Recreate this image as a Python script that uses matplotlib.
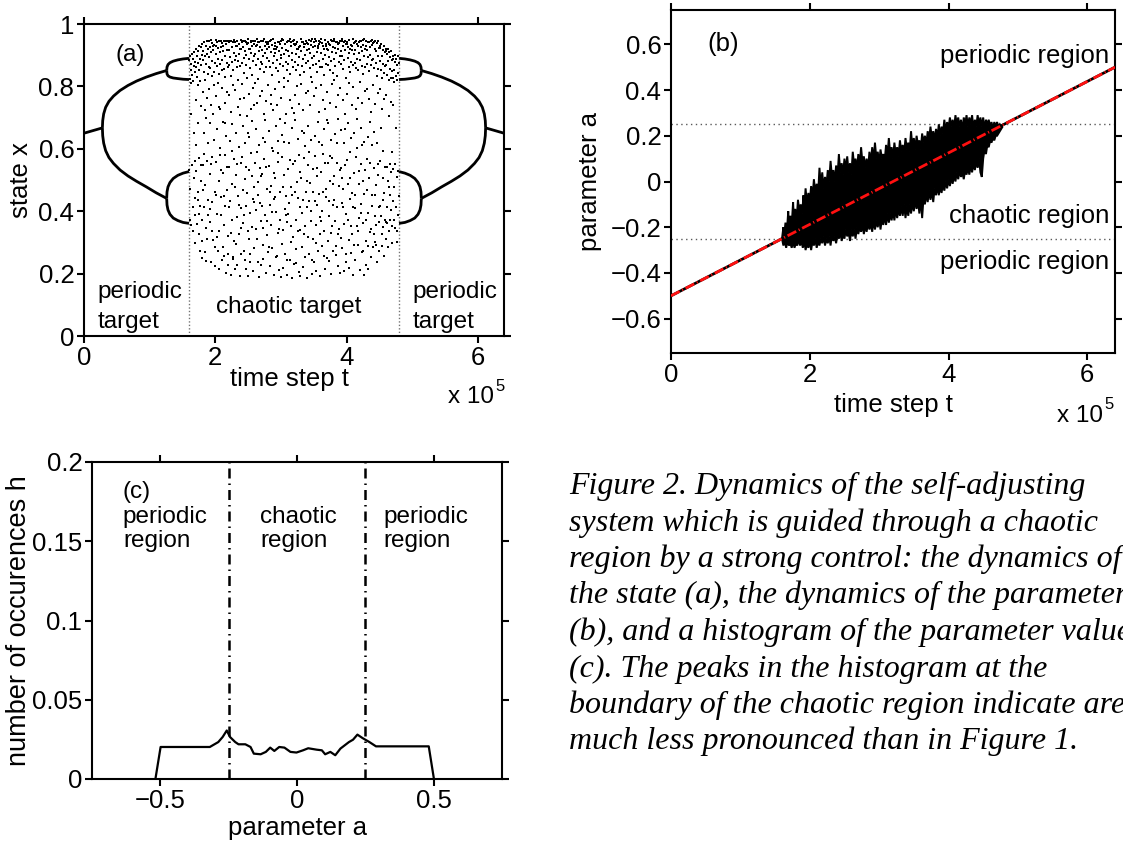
import matplotlib
matplotlib.use("Agg")
import matplotlib.pyplot as plt

plt.rcParams["font.family"] = ["Liberation Sans", "DejaVu Sans"]

# ── (a) state x: period-doubling branches either side of the chaotic window ──
STEM_L_T = [0.0, 0.28]
STEM_R_T = [6.4, 6.12]
STEM_X   = [0.650, 0.667]

BIG_L_T  = [0.28, 0.285, 0.30, 0.33, 0.38, 0.45, 0.55, 0.67, 0.80, 0.95, 1.10, 1.26]
BIG_R_T  = [6.12, 6.115, 6.10, 6.07, 6.02, 5.95, 5.85, 5.73, 5.60, 5.45, 5.30, 5.14]
BIG_UP_X = [0.667, 0.690, 0.712, 0.733, 0.752, 0.769, 0.787, 0.803, 0.817, 0.830, 0.841, 0.851]
BIG_LO_X = [0.667, 0.642, 0.618, 0.594, 0.572, 0.553, 0.532, 0.513, 0.496, 0.478, 0.459, 0.441]

SML_L_T  = [1.26, 1.265, 1.28, 1.31, 1.36, 1.43, 1.51, 1.60]
SML_R_T  = [5.14, 5.135, 5.12, 5.09, 5.04, 4.97, 4.89, 4.80]
SML_A_UP = [0.851, 0.862, 0.870, 0.876, 0.881, 0.885, 0.888, 0.890]
SML_A_LO = [0.851, 0.840, 0.834, 0.830, 0.827, 0.825, 0.823, 0.822]
SML_B_UP = [0.441, 0.462, 0.478, 0.492, 0.505, 0.515, 0.522, 0.527]
SML_B_LO = [0.441, 0.420, 0.404, 0.390, 0.378, 0.370, 0.364, 0.361]

CHAOS_PTS = [
    (1.603,.884),(1.611,.823),(1.618,.897),(1.624,.851),(1.631,.812),(1.637,.872),(1.646,.905),(1.652,.836),(1.659,.889),(1.667,.818),
    (1.674,.866),(1.681,.909),(1.689,.845),(1.696,.878),(1.607,.532),(1.615,.372),(1.622,.471),(1.634,.355),(1.641,.548),(1.655,.412),
    (1.663,.338),(1.671,.506),(1.684,.387),(1.692,.562),(1.699,.443),(1.628,.713),(1.677,.652),(1.694,.298),
    (1.702,.921),(1.709,.861),(1.716,.897),(1.723,.829),(1.731,.914),(1.738,.876),(1.744,.805),(1.752,.931),(1.759,.852),(1.767,.889),
    (1.774,.818),(1.782,.925),(1.789,.869),(1.796,.902),(1.706,.757),(1.741,.684),(1.778,.736),(1.713,.529),(1.728,.358),(1.735,.463),
    (1.749,.571),(1.756,.327),(1.771,.418),(1.785,.497),(1.793,.371),(1.763,.272),(1.798,.251),
    (1.804,.937),(1.811,.884),(1.817,.912),(1.826,.846),(1.833,.941),(1.839,.897),(1.848,.822),(1.855,.928),(1.862,.871),(1.869,.945),
    (1.877,.904),(1.884,.839),(1.891,.919),(1.898,.862),(1.808,.781),(1.844,.723),(1.872,.764),(1.829,.652),(1.887,.617),(1.815,.547),
    (1.851,.483),(1.879,.562),(1.822,.412),(1.858,.347),(1.894,.389),(1.837,.268),(1.866,.241),
    (1.903,.946),(1.909,.893),(1.916,.927),(1.924,.858),(1.931,.949),(1.937,.911),(1.945,.834),(1.952,.938),(1.958,.882),(1.966,.928),
    (1.973,.917),(1.981,.846),(1.988,.933),(1.995,.874),(1.906,.792),(1.941,.741),(1.977,.806),(1.927,.683),(1.985,.628),(1.913,.518),
    (1.949,.574),(1.992,.463),(1.921,.366),(1.956,.431),(1.969,.307),(1.934,.238),(1.998,.224),
    (2.004,.948),(2.011,.903),(2.018,.931),(2.026,.865),(2.033,.941),(2.039,.887),(2.047,.922),(2.054,.839),(2.061,.944),(2.068,.909),
    (2.076,.873),(2.083,.947),(2.089,.926),(2.097,.851),(2.008,.768),(2.043,.812),(2.079,.727),(2.022,.664),(2.071,.603),(2.015,.558),
    (2.051,.497),(2.093,.531),(2.029,.392),(2.064,.338),(2.086,.447),(2.036,.271),(2.058,.214),(2.099,.243),
    (2.103,.939),(2.109,.884),(2.117,.928),(2.124,.912),(2.131,.857),(2.138,.944),(2.146,.898),(2.153,.829),(2.159,.935),(2.167,.947),
    (2.174,.876),(2.181,.918),(2.188,.947),(2.196,.862),(2.107,.796),(2.142,.748),(2.178,.781),(2.121,.687),(2.163,.641),(2.114,.523),
    (2.149,.579),(2.185,.468),(2.128,.357),(2.156,.416),(2.192,.322),(2.135,.256),(2.171,.203),(2.199,.229),
    (2.202,.941),(2.208,.917),(2.216,.868),(2.223,.945),(2.229,.893),(2.237,.834),(2.244,.947),(2.251,.926),(2.258,.879),(2.266,.941),
    (2.273,.851),(2.279,.908),(2.287,.949),(2.294,.886),(2.206,.772),(2.241,.717),(2.277,.803),(2.219,.624),(2.262,.678),(2.212,.542),
    (2.248,.486),(2.284,.567),(2.226,.433),(2.255,.371),(2.291,.306),(2.233,.197),(2.269,.248),(2.298,.214),
    (2.303,.943),(2.311,.897),(2.317,.928),(2.325,.861),(2.332,.928),(2.339,.946),(2.346,.883),(2.353,.819),(2.361,.937),(2.368,.904),
    (2.375,.919),(2.382,.866),(2.389,.921),(2.397,.948),(2.307,.788),(2.343,.734),(2.379,.759),(2.321,.651),(2.364,.607),(2.314,.516),
    (2.349,.448),(2.386,.553),(2.328,.382),(2.357,.327),(2.393,.411),(2.336,.228),(2.371,.193),(2.399,.262),
    (2.404,.941),(2.411,.874),(2.418,.926),(2.424,.947),(2.431,.892),(2.438,.843),(2.446,.947),(2.453,.915),(2.461,.869),(2.467,.942),
    (2.474,.902),(2.482,.826),(2.489,.937),(2.496,.951),(2.408,.809),(2.443,.762),(2.478,.706),(2.421,.673),(2.457,.618),(2.414,.574),
    (2.449,.502),(2.485,.459),(2.428,.361),(2.464,.418),(2.492,.337),(2.434,.273),(2.471,.216),(2.499,.191),
    (2.503,.938),(2.509,.919),(2.517,.887),(2.524,.921),(2.531,.859),(2.538,.947),(2.545,.908),(2.552,.941),(2.559,.836),(2.566,.929),
    (2.573,.882),(2.581,.944),(2.588,.897),(2.595,.936),(2.507,.777),(2.542,.729),(2.577,.794),(2.521,.639),(2.563,.688),(2.513,.531),
    (2.548,.587),(2.584,.476),(2.527,.394),(2.556,.349),(2.591,.428),(2.535,.238),(2.569,.207),(2.598,.282),
    (2.602,.946),(2.609,.903),(2.616,.928),(2.623,.868),(2.631,.934),(2.637,.951),(2.645,.889),(2.652,.824),(2.658,.942),(2.666,.913),
    (2.673,.941),(2.681,.857),(2.687,.926),(2.694,.878),(2.606,.812),(2.641,.746),(2.677,.768),(2.619,.663),(2.662,.612),(2.613,.556),
    (2.648,.493),(2.684,.539),(2.627,.404),(2.655,.453),(2.691,.368),(2.634,.312),(2.669,.188),(2.698,.226),
    (2.704,.947),(2.711,.918),(2.717,.871),(2.725,.944),(2.732,.896),(2.738,.951),(2.746,.847),(2.753,.928),(2.759,.906),(2.767,.941),
    (2.774,.863),(2.781,.936),(2.788,.892),(2.796,.919),(2.708,.784),(2.742,.712),(2.778,.753),(2.721,.634),(2.763,.691),(2.714,.519),
    (2.749,.566),(2.785,.472),(2.728,.346),(2.757,.387),(2.792,.323),(2.735,.246),(2.771,.203),(2.799,.268),
    (2.803,.941),(2.809,.936),(2.817,.881),(2.824,.925),(2.831,.947),(2.838,.862),(2.845,.911),(2.852,.948),(2.859,.837),(2.866,.932),
    (2.873,.951),(2.881,.874),(2.888,.919),(2.895,.899),(2.807,.806),(2.842,.771),(2.877,.724),(2.821,.657),(2.863,.603),(2.813,.544),
    (2.848,.481),(2.884,.592),(2.827,.419),(2.856,.357),(2.891,.438),(2.834,.224),(2.869,.282),(2.898,.194),
    (2.904,.928),(2.911,.907),(2.917,.938),(2.925,.859),(2.931,.919),(2.938,.884),(2.946,.926),(2.953,.941),(2.959,.848),(2.967,.913),
    (2.974,.943),(2.981,.871),(2.988,.936),(2.996,.902),(2.908,.791),(2.942,.739),(2.978,.815),(2.921,.672),(2.963,.624),(2.914,.505),
    (2.949,.558),(2.985,.462),(2.928,.398),(2.957,.331),(2.992,.372),(2.935,.257),(2.971,.211),(2.999,.189),
    (3.003,.944),(3.009,.891),(3.017,.951),(3.024,.923),(3.031,.866),(3.038,.949),(3.045,.903),(3.052,.828),(3.059,.937),(3.066,.936),
    (3.073,.879),(3.081,.917),(3.088,.941),(3.095,.854),(3.007,.763),(3.042,.797),(3.077,.711),(3.021,.645),(3.063,.682),(3.013,.573),
    (3.048,.517),(3.084,.449),(3.027,.341),(3.056,.406),(3.091,.364),(3.034,.218),(3.069,.262),(3.098,.197),
    (3.102,.947),(3.109,.915),(3.116,.872),(3.124,.946),(3.131,.898),(3.137,.951),(3.145,.841),(3.152,.929),(3.159,.941),(3.166,.886),
    (3.173,.908),(3.181,.944),(3.187,.863),(3.195,.936),(3.106,.817),(3.141,.756),(3.177,.732),(3.119,.618),(3.162,.667),(3.113,.534),
    (3.148,.478),(3.184,.551),(3.127,.427),(3.155,.353),(3.191,.318),(3.134,.243),(3.169,.186),(3.199,.231),
    (3.204,.948),(3.211,.877),(3.217,.933),(3.224,.936),(3.231,.905),(3.238,.852),(3.246,.941),(3.253,.919),(3.259,.919),(3.267,.868),
    (3.274,.927),(3.281,.893),(3.288,.928),(3.296,.835),(3.208,.774),(3.243,.801),(3.278,.742),(3.221,.693),(3.263,.631),(3.214,.562),
    (3.249,.494),(3.285,.527),(3.228,.371),(3.256,.442),(3.292,.339),(3.235,.278),(3.271,.205),(3.299,.192),
    (3.303,.951),(3.309,.912),(3.317,.866),(3.324,.943),(3.331,.941),(3.338,.889),(3.345,.926),(3.352,.847),(3.359,.936),(3.366,.901),
    (3.373,.937),(3.381,.874),(3.388,.947),(3.395,.918),(3.307,.809),(3.342,.723),(3.378,.778),(3.321,.656),(3.363,.608),(3.313,.508),
    (3.349,.572),(3.384,.463),(3.327,.393),(3.356,.326),(3.391,.412),(3.335,.221),(3.369,.253),(3.398,.187),
    (3.402,.938),(3.409,.936),(3.416,.883),(3.424,.921),(3.431,.949),(3.437,.858),(3.445,.906),(3.452,.947),(3.459,.831),(3.466,.934),
    (3.473,.892),(3.481,.951),(3.487,.869),(3.495,.927),(3.406,.786),(3.441,.741),(3.477,.813),(3.419,.674),(3.462,.629),(3.413,.547),
    (3.448,.489),(3.484,.536),(3.427,.434),(3.455,.368),(3.491,.311),(3.434,.263),(3.469,.199),(3.499,.236),
    (3.504,.941),(3.511,.897),(3.517,.929),(3.525,.951),(3.531,.872),(3.538,.944),(3.546,.911),(3.553,.846),(3.559,.928),(3.567,.924),
    (3.574,.881),(3.581,.947),(3.588,.936),(3.596,.862),(3.508,.768),(3.542,.794),(3.578,.718),(3.521,.641),(3.563,.687),(3.514,.577),
    (3.549,.514),(3.585,.456),(3.528,.357),(3.557,.421),(3.592,.382),(3.535,.208),(3.571,.274),(3.599,.193),
    (3.603,.943),(3.609,.951),(3.617,.906),(3.624,.861),(3.631,.938),(3.638,.928),(3.645,.887),(3.652,.919),(3.659,.838),(3.666,.948),
    (3.673,.902),(3.681,.936),(3.688,.873),(3.695,.931),(3.607,.804),(3.642,.757),(3.677,.729),(3.621,.613),(3.663,.662),(3.613,.526),
    (3.648,.583),(3.684,.471),(3.627,.402),(3.656,.336),(3.691,.447),(3.634,.287),(3.669,.216),(3.698,.249),
    (3.704,.919),(3.711,.917),(3.717,.869),(3.725,.941),(3.732,.893),(3.738,.936),(3.746,.852),(3.753,.932),(3.759,.949),(3.767,.881),
    (3.774,.911),(3.781,.947),(3.788,.842),(3.796,.926),(3.708,.782),(3.742,.746),(3.778,.807),(3.721,.684),(3.763,.627),(3.714,.554),
    (3.749,.498),(3.785,.569),(3.728,.386),(3.757,.329),(3.792,.419),(3.735,.241),(3.771,.198),(3.799,.274),
    (3.803,.947),(3.809,.889),(3.817,.951),(3.824,.924),(3.831,.866),(3.838,.943),(3.845,.908),(3.852,.941),(3.859,.834),(3.866,.921),
    (3.873,.936),(3.881,.877),(3.888,.939),(3.895,.898),(3.807,.819),(3.842,.733),(3.877,.771),(3.821,.647),(3.863,.696),(3.813,.512),
    (3.848,.556),(3.884,.482),(3.827,.368),(3.856,.413),(3.891,.344),(3.834,.259),(3.869,.223),(3.898,.202),
    (3.902,.947),(3.909,.914),(3.916,.871),(3.924,.946),(3.931,.899),(3.937,.951),(3.945,.855),(3.952,.929),(3.959,.941),(3.966,.884),
    (3.973,.917),(3.981,.944),(3.987,.828),(3.995,.936),(3.906,.794),(3.941,.758),(3.977,.713),(3.919,.661),(3.962,.617),(3.913,.537),
    (3.948,.472),(3.984,.548),(3.927,.427),(3.955,.359),(3.991,.392),(3.934,.283),(3.969,.209),(3.999,.236),
    (4.003,.941),(4.009,.936),(4.017,.892),(4.024,.925),(4.031,.863),(4.038,.949),(4.045,.907),(4.052,.919),(4.059,.846),(4.066,.933),
    (4.073,.878),(4.081,.928),(4.088,.916),(4.095,.869),(4.007,.777),(4.042,.811),(4.077,.739),(4.021,.682),(4.063,.635),(4.013,.563),
    (4.048,.508),(4.084,.459),(4.027,.373),(4.056,.438),(4.091,.326),(4.034,.219),(4.069,.267),(4.098,.195),
    (4.102,.951),(4.109,.903),(4.116,.938),(4.124,.874),(4.131,.941),(4.137,.917),(4.145,.859),(4.152,.946),(4.159,.889),(4.166,.936),
    (4.173,.931),(4.181,.852),(4.187,.943),(4.195,.908),(4.106,.798),(4.141,.727),(4.177,.764),(4.119,.651),(4.162,.604),(4.113,.521),
    (4.148,.574),(4.184,.486),(4.127,.409),(4.155,.351),(4.191,.379),(4.134,.244),(4.169,.291),(4.199,.212),
    (4.204,.946),(4.211,.884),(4.217,.927),(4.224,.947),(4.231,.866),(4.238,.912),(4.246,.948),(4.253,.839),(4.259,.934),(4.267,.951),
    (4.274,.897),(4.281,.921),(4.288,.861),(4.296,.944),(4.208,.815),(4.243,.748),(4.278,.786),(4.221,.668),(4.263,.623),(4.214,.552),
    (4.249,.496),(4.285,.531),(4.228,.422),(4.256,.363),(4.292,.304),(4.235,.268),(4.271,.197),(4.299,.229),
    (4.303,.928),(4.309,.917),(4.317,.873),(4.324,.941),(4.331,.894),(4.338,.941),(4.345,.849),(4.352,.926),(4.359,.902),(4.366,.947),
    (4.373,.868),(4.381,.932),(4.388,.884),(4.395,.949),(4.307,.791),(4.342,.761),(4.377,.719),(4.321,.639),(4.363,.687),(4.313,.568),
    (4.349,.507),(4.384,.451),(4.327,.394),(4.356,.333),(4.391,.417),(4.335,.216),(4.369,.252),(4.398,.284),
    (4.403,.938),(4.409,.887),(4.416,.943),(4.424,.859),(4.431,.921),(4.437,.946),(4.445,.876),(4.452,.913),(4.459,.834),(4.466,.939),
    (4.473,.896),(4.481,.944),(4.487,.857),(4.495,.924),(4.406,.806),(4.441,.742),(4.477,.778),(4.419,.653),(4.462,.618),(4.413,.537),
    (4.448,.483),(4.484,.552),(4.427,.386),(4.455,.357),(4.491,.413),(4.434,.301),(4.469,.236),(4.499,.271),
    (4.503,.931),(4.509,.882),(4.517,.924),(4.524,.851),(4.531,.936),(4.538,.897),(4.545,.828),(4.552,.918),(4.559,.871),(4.566,.929),
    (4.573,.843),(4.581,.909),(4.588,.864),(4.595,.921),(4.507,.793),(4.542,.726),(4.577,.761),(4.521,.667),(4.513,.561),(4.549,.506),
    (4.584,.542),(4.528,.384),(4.556,.349),(4.591,.372),(4.563,.436),(4.535,.289),(4.571,.258),(4.598,.312),
    (4.603,.914),(4.609,.868),(4.617,.903),(4.624,.837),(4.631,.921),(4.638,.882),(4.646,.819),(4.652,.909),(4.659,.857),(4.667,.894),
    (4.674,.826),(4.681,.912),(4.688,.849),(4.696,.886),(4.607,.772),(4.642,.704),(4.678,.751),(4.613,.543),(4.621,.361),(4.635,.497),
    (4.649,.338),(4.656,.552),(4.671,.403),(4.684,.526),(4.692,.354),(4.663,.452),(4.628,.284),(4.699,.297),
    (4.703,.889),(4.709,.826),(4.716,.897),(4.723,.851),(4.731,.814),(4.737,.879),(4.745,.902),(4.752,.833),(4.759,.887),(4.767,.819),
    (4.774,.868),(4.781,.896),(4.788,.844),(4.795,.874),(4.706,.741),(4.748,.668),(4.712,.536),(4.719,.371),(4.727,.478),(4.734,.345),
    (4.741,.551),(4.756,.412),(4.763,.336),(4.771,.509),(4.784,.389),(4.792,.529),(4.798,.448),(4.777,.302),
]

# extra points filling the middle and lower part of the chaotic cloud
CHAOS_MID = [
    (1.712,.612),(1.738,.437),(1.757,.392),(1.784,.548),(1.795,.305),(1.818,.468),(1.836,.584),(1.857,.699),(1.874,.312),(1.893,.437),
    (1.914,.408),(1.932,.552),(1.953,.338),(1.971,.712),(1.989,.284),(2.013,.452),(2.031,.318),(2.052,.734),(2.074,.579),(2.092,.387),
    (2.112,.286),(2.133,.449),(2.155,.683),(2.172,.542),(2.194,.263),(2.213,.412),(2.234,.331),(2.256,.593),(2.275,.253),(2.297,.477),
    (2.316,.296),(2.334,.552),(2.355,.419),(2.377,.708),(2.394,.345),(2.417,.467),(2.436,.389),(2.458,.243),(2.476,.541),(2.497,.652),
    (2.516,.311),(2.537,.263),(2.554,.512),(2.575,.438),(2.593,.739),(2.614,.344),(2.633,.589),(2.654,.236),(2.676,.426),(2.695,.512),
    (2.716,.418),(2.734,.293),(2.755,.621),(2.773,.541),(2.794,.367),(2.812,.285),(2.833,.463),(2.854,.742),(2.872,.398),(2.896,.523),
    (2.916,.447),(2.933,.253),(2.955,.587),(2.974,.342),(2.993,.696),(3.015,.296),(3.036,.476),(3.054,.621),(3.075,.388),(3.096,.243),
    (3.114,.392),(3.136,.564),(3.157,.301),(3.174,.452),(3.193,.716),(3.216,.463),(3.233,.234),(3.255,.337),(3.276,.581),(3.294,.412),
    (3.315,.286),(3.337,.437),(3.353,.652),(3.375,.353),(3.396,.496),(3.414,.318),(3.436,.591),(3.458,.402),(3.476,.244),(3.493,.463),
    (3.516,.432),(3.534,.297),(3.553,.539),(3.577,.623),(3.594,.328),(3.615,.367),(3.636,.462),(3.654,.258),(3.674,.553),(3.696,.691),
    (3.712,.303),(3.737,.432),(3.755,.578),(3.776,.352),(3.793,.486),(3.815,.437),(3.836,.289),(3.858,.617),(3.875,.327),(3.894,.533),
    (3.914,.313),(3.933,.506),(3.954,.412),(3.976,.662),(3.997,.263),(4.016,.486),(4.035,.308),(4.057,.589),(4.074,.354),(4.093,.412),
    (4.114,.293),(4.136,.452),(4.153,.694),(4.176,.337),(4.195,.529),(4.215,.393),(4.234,.612),(4.257,.274),(4.273,.456),(4.296,.371),
    (4.316,.467),(4.334,.289),(4.354,.556),(4.378,.342),(4.396,.612),(4.412,.327),(4.436,.451),(4.457,.292),(4.475,.517),(4.493,.364),
    (4.514,.418),(4.537,.327),(4.555,.593),(4.574,.457),(4.596,.364),(4.618,.412),(4.645,.476),(4.668,.373),(4.691,.591),(4.714,.432),
]

# ── (b) parameter a: linear ramp plus the noisy band inside the chaotic window ──
RAMP_T = [0.0, 6.4]
RAMP_A = [-0.5, 0.5]

BAND_UP = [
    (1.60,-0.25),(1.62,-0.20),(1.63,-0.24),(1.65,-0.18),(1.67,-0.22),(1.69,-0.13),(1.70,-0.20),(1.72,-0.15),
    (1.74,-0.19),(1.76,-0.09),(1.77,-0.16),(1.79,-0.12),(1.81,-0.17),(1.83,-0.08),(1.85,-0.13),(1.87,-0.10),
    (1.89,-0.14),(1.91,-0.06),(1.92,-0.12),(1.94,-0.03),(1.96,-0.10),(1.98,-0.05),(2.00,-0.09),(2.02,-0.02),
    (2.04,-0.07),(2.06,0.01),(2.08,-0.05),(2.10,-0.01),(2.12,-0.06),(2.14,0.06),(2.16,-0.02),(2.18,0.04),
    (2.20,-0.03),(2.22,0.02),(2.24,-0.02),(2.26,0.05),(2.28,0.00),(2.30,0.09),(2.32,0.02),(2.34,0.05),
    (2.36,0.00),(2.38,0.07),(2.40,0.02),(2.42,0.12),(2.44,0.04),(2.46,0.08),(2.48,0.03),(2.50,0.10),
    (2.52,0.05),(2.54,0.11),(2.56,0.04),(2.58,0.08),(2.60,0.03),(2.62,0.13),(2.64,0.07),(2.66,0.10),
    (2.68,0.05),(2.70,0.12),(2.72,0.07),(2.74,0.15),(2.76,0.08),(2.78,0.11),(2.80,0.06),(2.82,0.10),
    (2.84,0.05),(2.86,0.13),(2.88,0.08),(2.90,0.15),(2.92,0.09),(2.94,0.17),(2.96,0.10),(2.98,0.13),
    (3.00,0.08),(3.02,0.14),(3.04,0.10),(3.06,0.12),(3.08,0.09),(3.10,0.16),(3.12,0.11),(3.14,0.19),
    (3.16,0.12),(3.18,0.15),(3.20,0.10),(3.22,0.17),(3.24,0.12),(3.26,0.15),(3.28,0.11),(3.30,0.18),
    (3.32,0.13),(3.34,0.16),(3.36,0.12),(3.38,0.19),(3.40,0.14),(3.42,0.17),(3.44,0.13),(3.46,0.22),
    (3.48,0.15),(3.50,0.19),(3.52,0.14),(3.54,0.20),(3.56,0.16),(3.58,0.18),(3.60,0.14),(3.62,0.21),
    (3.64,0.17),(3.66,0.20),(3.68,0.16),(3.70,0.22),(3.72,0.18),(3.74,0.24),(3.76,0.19),(3.78,0.22),
    (3.80,0.18),(3.82,0.23),(3.84,0.19),(3.86,0.25),(3.88,0.20),(3.90,0.24),(3.92,0.21),(3.94,0.27),
    (3.96,0.22),(3.98,0.26),(4.00,0.23),(4.02,0.28),(4.04,0.24),(4.06,0.27),(4.08,0.23),(4.10,0.29),
    (4.12,0.25),(4.14,0.28),(4.16,0.24),(4.18,0.27),(4.20,0.22),(4.22,0.28),(4.24,0.25),(4.26,0.29),
    (4.28,0.24),(4.30,0.28),(4.32,0.25),(4.34,0.29),(4.36,0.23),(4.38,0.27),(4.40,0.24),(4.42,0.29),
    (4.44,0.25),(4.46,0.28),(4.48,0.24),(4.50,0.28),(4.52,0.23),(4.54,0.27),(4.56,0.25),(4.58,0.27),
    (4.60,0.24),(4.62,0.26),(4.64,0.23),(4.66,0.26),(4.68,0.24),(4.70,0.26),(4.72,0.24),(4.74,0.25),
    (4.76,0.24),(4.78,0.24),
]
BAND_LO = [
    (1.60,-0.25),(1.62,-0.28),(1.64,-0.26),(1.66,-0.29),(1.68,-0.26),(1.70,-0.28),(1.72,-0.27),(1.74,-0.29),
    (1.76,-0.26),(1.78,-0.29),(1.80,-0.27),(1.82,-0.28),(1.84,-0.25),(1.86,-0.28),(1.88,-0.26),(1.90,-0.29),
    (1.92,-0.26),(1.94,-0.30),(1.96,-0.27),(1.98,-0.29),(2.00,-0.26),(2.02,-0.30),(2.04,-0.26),(2.06,-0.28),
    (2.08,-0.25),(2.10,-0.29),(2.12,-0.26),(2.14,-0.28),(2.16,-0.25),(2.18,-0.27),(2.20,-0.24),(2.22,-0.28),
    (2.24,-0.25),(2.26,-0.27),(2.28,-0.24),(2.30,-0.28),(2.32,-0.23),(2.34,-0.26),(2.36,-0.24),(2.38,-0.27),
    (2.40,-0.23),(2.42,-0.25),(2.44,-0.22),(2.46,-0.26),(2.48,-0.23),(2.50,-0.25),(2.52,-0.21),(2.54,-0.24),
    (2.56,-0.22),(2.58,-0.26),(2.60,-0.21),(2.62,-0.24),(2.64,-0.21),(2.66,-0.25),(2.68,-0.20),(2.70,-0.23),
    (2.72,-0.20),(2.74,-0.22),(2.76,-0.19),(2.78,-0.23),(2.80,-0.19),(2.82,-0.22),(2.84,-0.18),(2.86,-0.21),
    (2.88,-0.18),(2.90,-0.22),(2.92,-0.17),(2.94,-0.21),(2.96,-0.17),(2.98,-0.20),(3.00,-0.16),(3.02,-0.21),
    (3.04,-0.16),(3.06,-0.19),(3.08,-0.15),(3.10,-0.19),(3.12,-0.14),(3.14,-0.18),(3.16,-0.14),(3.18,-0.17),
    (3.20,-0.13),(3.22,-0.17),(3.24,-0.12),(3.26,-0.16),(3.28,-0.12),(3.30,-0.15),(3.32,-0.11),(3.34,-0.15),
    (3.36,-0.10),(3.38,-0.16),(3.40,-0.11),(3.42,-0.15),(3.44,-0.10),(3.46,-0.14),(3.48,-0.09),(3.50,-0.13),
    (3.52,-0.08),(3.54,-0.12),(3.56,-0.08),(3.58,-0.14),(3.60,-0.07),(3.62,-0.16),(3.64,-0.07),(3.66,-0.10),
    (3.68,-0.05),(3.70,-0.09),(3.72,-0.04),(3.74,-0.08),(3.76,-0.04),(3.78,-0.09),(3.80,-0.03),(3.82,-0.06),
    (3.84,-0.02),(3.86,-0.06),(3.88,-0.02),(3.90,-0.05),(3.92,-0.01),(3.94,-0.04),(3.96,0.00),(3.98,-0.03),
    (4.00,0.01),(4.02,-0.02),(4.04,0.02),(4.06,-0.01),(4.08,0.03),(4.10,0.00),(4.12,0.04),(4.14,0.01),
    (4.16,0.05),(4.18,0.02),(4.20,0.04),(4.22,0.01),(4.24,0.05),(4.26,0.03),(4.28,0.06),(4.30,0.03),
    (4.32,0.07),(4.34,0.04),(4.36,0.08),(4.38,0.05),(4.40,0.09),(4.42,0.06),(4.44,0.10),(4.46,0.04),
    (4.48,0.02),(4.50,0.10),(4.52,0.14),(4.54,0.12),(4.56,0.16),(4.58,0.15),(4.60,0.18),(4.62,0.17),
    (4.64,0.19),(4.66,0.18),(4.68,0.20),(4.70,0.20),(4.72,0.21),(4.74,0.22),(4.76,0.23),(4.78,0.24),
]

# ── (c) histogram of parameter values ──
HIST_A = [-0.518, -0.499, -0.319, -0.288, -0.272, -0.257, -0.245, -0.226, -0.214, -0.189,
          -0.170, -0.158, -0.133, -0.114, -0.098, -0.083, -0.065, -0.046, -0.024, -0.002,
          0.022, 0.041, 0.072, 0.091, 0.103, 0.122, 0.140, 0.159, 0.190, 0.205,
          0.221, 0.240, 0.265, 0.289, 0.482, 0.501]
HIST_H = [0.0, 0.0202, 0.0202, 0.0233, 0.0265, 0.0306, 0.0265, 0.0233, 0.0219, 0.0219,
          0.0202, 0.0160, 0.0156, 0.0171, 0.0198, 0.0177, 0.0202, 0.0198, 0.0171, 0.0167,
          0.0181, 0.0194, 0.0185, 0.0181, 0.0156, 0.0171, 0.0150, 0.0192, 0.0233, 0.0248,
          0.0280, 0.0258, 0.0233, 0.0206, 0.0206, 0.0]

T_BOUNDS = [1.6, 4.8]
A_BOUNDS = [-0.25, 0.25]

CAPTION = [
    "Figure 2. Dynamics of the self-adjusting",
    "system which is guided through a chaotic",
    "region by a strong control: the dynamics of",
    "the state (a), the dynamics of the parameter",
    "(b), and a histogram of the parameter values",
    "(c). The peaks in the histogram at the",
    "boundary of the chaotic region indicate are",
    "much less pronounced than in Figure 1.",
]

W, H = 1123, 844
FS = 18.5      # ticks, axis labels, panel (b) notes
FS_NOTE = 17.5 # region notes in panels (a) and (c)


def box(l, t, r, b):
    return [l / W, 1 - b / H, (r - l) / W, (b - t) / H]


def style(ax):
    for sp in ax.spines.values():
        sp.set_linewidth(1.5)
    ax.tick_params(direction="out", length=5, width=1.5, labelsize=FS,
                   top=True, right=True, pad=2)


def times_ten(ax, x, y):
    ax.text(x, y, "x 10", transform=ax.transAxes, ha="right", va="center",
            fontsize=FS - 1)
    ax.text(x + 0.004, y + 0.035, "5", transform=ax.transAxes, ha="left",
            va="center", fontsize=12)


fig = plt.figure(figsize=(W / 100, H / 100), dpi=100)

# ── panel (a) ────────────────────────────────────────────────────────────
ax_a = fig.add_axes(box(84, 24, 504, 336))
style(ax_a)
for tx in T_BOUNDS:
    ax_a.axvline(tx, color="0.45", lw=1.0, ls=(0, (1, 1.5)))

kw = dict(color="k", lw=2.0, solid_capstyle="butt", solid_joinstyle="round")
ax_a.plot(STEM_L_T, STEM_X, **kw)
ax_a.plot(STEM_R_T, STEM_X, **kw)
for tt in (BIG_L_T, BIG_R_T):
    ax_a.plot(tt, BIG_UP_X, **kw)
    ax_a.plot(tt, BIG_LO_X, **kw)
for tt in (SML_L_T, SML_R_T):
    for xs in (SML_A_UP, SML_A_LO, SML_B_UP, SML_B_LO):
        ax_a.plot(tt, xs, **kw)

ct, cx = zip(*(CHAOS_PTS + CHAOS_MID))
ax_a.plot(ct, cx, "s", color="k", ms=2.0, mew=0)

ax_a.set_xlim(0, 6.4)
ax_a.set_ylim(0, 1)
ax_a.set_xticks([0, 2, 4, 6], ["0", "2", "4", "6"])
ax_a.set_yticks([0, 0.2, 0.4, 0.6, 0.8, 1], ["0", "0.2", "0.4", "0.6", "0.8", "1"])
ax_a.set_xlabel("time step t", fontsize=FS)
ax_a.xaxis.set_label_coords(0.49, -0.099)
ax_a.set_ylabel("state x", fontsize=FS)
ax_a.yaxis.set_label_coords(-0.121, 0.5)
times_ten(ax_a, 0.975, -0.196)

ax_a.text(0.70, 0.90, "(a)", fontsize=FS_NOTE, ha="center", va="center")
ax_a.text(0.2, 0.14, "periodic", fontsize=FS_NOTE, ha="left", va="center")
ax_a.text(0.2, 0.045, "target", fontsize=FS_NOTE, ha="left", va="center")
ax_a.text(3.12, 0.093, "chaotic target", fontsize=FS_NOTE, ha="center", va="center")
ax_a.text(5.0, 0.14, "periodic", fontsize=FS_NOTE, ha="left", va="center")
ax_a.text(5.0, 0.045, "target", fontsize=FS_NOTE, ha="left", va="center")

# ── panel (b) ────────────────────────────────────────────────────────────
ax_b = fig.add_axes(box(671, 10, 1115, 353))
style(ax_b)
for ay in A_BOUNDS:
    ax_b.axhline(ay, color="0.35", lw=1.0, ls=(0, (1, 2.5)))

ut, ua = zip(*BAND_UP)
lt, la = zip(*BAND_LO)
ax_b.fill(list(ut) + list(lt[::-1]), list(ua) + list(la[::-1]),
          color="k", lw=1.4, joinstyle="miter", zorder=3)
ax_b.plot(RAMP_T, RAMP_A, color="k", lw=2.0, zorder=2)
ax_b.plot(RAMP_T, RAMP_A, color="#ff1010", lw=2.0, dashes=(3.5, 1.0, 0.4, 1.0),
          zorder=4)

ax_b.set_xlim(0, 6.4)
ax_b.set_ylim(-0.75, 0.75)
ax_b.set_xticks([0, 2, 4, 6], ["0", "2", "4", "6"])
ax_b.set_yticks([-0.6, -0.4, -0.2, 0, 0.2, 0.4, 0.6],
                ["\u22120.6", "\u22120.4", "\u22120.2", "0", "0.2", "0.4", "0.6"])
ax_b.set_xlabel("time step t", fontsize=FS)
ax_b.xaxis.set_label_coords(0.5, -0.117)
ax_b.set_ylabel("parameter a", fontsize=FS)
ax_b.yaxis.set_label_coords(-0.155, 0.5)
times_ten(ax_b, 0.973, -0.184)

ax_b.text(0.75, 0.60, "(b)", fontsize=FS, ha="center", va="center")
ax_b.text(6.32, 0.547, "periodic region", fontsize=FS, ha="right", va="center")
ax_b.text(6.32, -0.149, "chaotic region", fontsize=FS, ha="right", va="center")
ax_b.text(6.32, -0.35, "periodic region", fontsize=FS, ha="right", va="center")

# ── panel (c) ────────────────────────────────────────────────────────────
ax_c = fig.add_axes(box(92, 462, 502, 779))
style(ax_c)
for ay in A_BOUNDS:
    ax_c.axvline(ay, color="k", lw=1.8, dashes=(4, 2, 0.6, 2))
ax_c.plot(HIST_A, HIST_H, color="k", lw=1.6)

ax_c.set_xlim(-0.75, 0.75)
ax_c.set_ylim(0, 0.2)
ax_c.set_xticks([-0.5, 0, 0.5], ["\u22120.5", "0", "0.5"])
ax_c.set_yticks([0, 0.05, 0.1, 0.15, 0.2], ["0", "0.05", "0.1", "0.15", "0.2"])
ax_c.set_xlabel("parameter a", fontsize=FS)
ax_c.xaxis.set_label_coords(0.5, -0.117)
ax_c.set_ylabel("number of occurences h", fontsize=19.5)
ax_c.yaxis.set_label_coords(-0.146, 0.5)

ax_c.text(-0.637, 0.181, "(c)", fontsize=FS_NOTE, ha="left", va="center")
ax_c.text(-0.637, 0.165, "periodic", fontsize=FS_NOTE, ha="left", va="center")
ax_c.text(-0.637, 0.150, "region", fontsize=FS_NOTE, ha="left", va="center")
ax_c.text(-0.135, 0.165, "chaotic", fontsize=FS_NOTE, ha="left", va="center")
ax_c.text(-0.135, 0.150, "region", fontsize=FS_NOTE, ha="left", va="center")
ax_c.text(0.315, 0.165, "periodic", fontsize=FS_NOTE, ha="left", va="center")
ax_c.text(0.315, 0.150, "region", fontsize=FS_NOTE, ha="left", va="center")

# ── caption (runs past the right edge, as in the source page) ─────────────
for i, line in enumerate(CAPTION):
    fig.text(569 / W, 1 - (494 + 36.5 * i) / H, line, family="Liberation Serif",
             style="italic", fontsize=23, ha="left", va="baseline")

fig.savefig("out.png", dpi=100, facecolor="white")
